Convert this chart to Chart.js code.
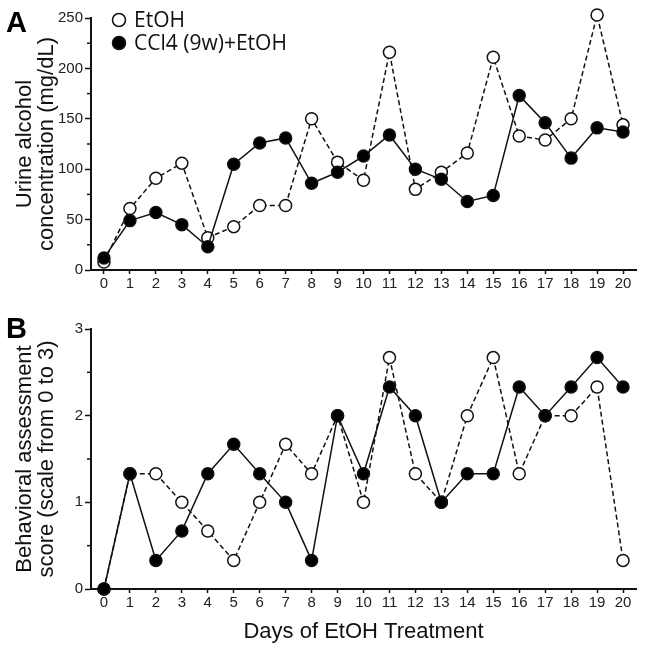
<!DOCTYPE html>
<html><head><meta charset="utf-8">
<script src="https://cdn.jsdelivr.net/npm/chart.js@4/dist/chart.umd.min.js"></script>
<style>
html,body{margin:0;padding:0;background:#fff;width:645px;height:649px;overflow:hidden}
#a{position:absolute;left:0;top:0;width:645px;height:300px}
#b{position:absolute;left:0;top:300px;width:645px;height:349px}
</style></head><body>
<div id="a"><canvas id="ca"></canvas></div>
<div id="b"><canvas id="cb"></canvas></div>
<script>
// ---- data ----
const days = ['0','1','2','3','4','5','6','7','8','9','10','11','12','13','14','15','16','17','18','19','20'];
const seriesNames = ['EtOH', 'CCl4 (9w)+EtOH'];
const etohAlcohol = [8, 61, 91, 106, 32, 43, 64, 64, 150, 107, 89, 216, 80, 97, 116, 211, 133, 129, 150, 253, 144];
const ccl4Alcohol = [12, 49, 57, 45, 23, 105, 126, 131, 86, 97, 113, 134, 100, 90, 68, 74, 173, 146, 111, 141, 137];
const etohScore = [0, 1.33, 1.33, 1, 0.67, 0.33, 1, 1.67, 1.33, 2, 1, 2.67, 1.33, 1, 2, 2.67, 1.33, 2, 2, 2.33, 0.33];
const ccl4Score = [0, 1.33, 0.33, 0.67, 1.33, 1.67, 1.33, 1, 0.33, 2, 1.33, 2.33, 2, 1, 1.33, 1.33, 2.33, 2, 2.33, 2.67, 2.33];
const alcoholTicks = [0, 50, 100, 150, 200, 250];
const scoreTicks = [0, 1, 2, 3];
const alcoholTitle = ['Urine alcohol', 'concentration (mg/dL)'];
const scoreTitle = ['Behavioral assessment', 'score (scale from 0 to 3)'];
const xTitle = 'Days of EtOH Treatment';

const INK = '#111';
const SANS = '"Liberation Sans", Arial, sans-serif';

function datasets(etoh, ccl4) {
  return [
    { label: seriesNames[1], data: ccl4, order: 0, borderColor: INK, backgroundColor: INK,
      borderWidth: 1.5, pointRadius: 6, pointHoverRadius: 6, pointBorderWidth: 1.5,
      pointBackgroundColor: '#000', pointBorderColor: INK, clip: false, tension: 0 },
    { label: seriesNames[0], data: etoh, order: 1, borderColor: INK, backgroundColor: '#fff',
      borderWidth: 1.5, borderDash: [5, 3], pointRadius: 6, pointHoverRadius: 6, pointBorderWidth: 1.5,
      pointBackgroundColor: '#fff', pointBorderColor: INK, clip: false, tension: 0 }
  ];
}

function decor(letter, letterY, minorStep, showLegend) {
  return {
    id: 'decor' + letter,
    afterDraw(chart) {
      const ctx = chart.ctx, ys = chart.scales.y, area = chart.chartArea;
      ctx.save();
      ctx.strokeStyle = INK; ctx.lineWidth = 1.5;
      for (let v = ys.min + minorStep; v < ys.max; v += 2 * minorStep) {
        const py = ys.getPixelForValue(v);
        ctx.beginPath(); ctx.moveTo(area.left - 4, py); ctx.lineTo(area.left, py); ctx.stroke();
      }
      ctx.fillStyle = '#000';
      ctx.font = 'bold 29px ' + SANS;
      ctx.textBaseline = 'alphabetic'; ctx.textAlign = 'left';
      ctx.fillText(letter, 6, letterY);
      if (showLegend) {
        const rows = [chart.data.datasets[1], chart.data.datasets[0]];
        rows.forEach((ds, i) => {
          const cy = 20 + i * 23;
          ctx.beginPath(); ctx.arc(119, cy, 6.5, 0, Math.PI * 2);
          ctx.fillStyle = ds.pointBackgroundColor; ctx.fill();
          ctx.lineWidth = 1.5; ctx.strokeStyle = INK; ctx.stroke();
          ctx.fillStyle = '#111';
          ctx.font = '21px "Open Sans", sans-serif';
          ctx.textBaseline = 'middle';
          ctx.fillText(ds.label, 134, cy + 1);
        });
      }
      ctx.restore();
    }
  };
}

function makeChart(id, etoh, ccl4, yMax, yStep, yTitle, padTop, xHeight, showXTitle, letter, letterY, minorStep, legend) {
  return new Chart(document.getElementById(id), {
    type: 'line',
    data: { labels: days, datasets: datasets(etoh, ccl4) },
    plugins: [decor(letter, letterY, minorStep, legend)],
    options: {
      responsive: true, maintainAspectRatio: false, animation: false, devicePixelRatio: 1,
      layout: { padding: { left: 0, right: 9, top: padTop, bottom: 0 } },
      plugins: { legend: { display: false }, tooltip: { enabled: false } },
      scales: {
        x: {
          type: 'category', offset: true,
          grid: { drawOnChartArea: false, tickLength: 4, color: INK, tickWidth: 1.5 },
          border: { color: INK, width: 2 },
          ticks: { font: { family: SANS, size: 15 }, color: '#222', padding: 1, maxRotation: 0, autoSkip: false },
          title: { display: showXTitle, text: xTitle, font: { family: SANS, size: 22 }, color: '#111', padding: { top: 0, bottom: 4 } },
          afterFit: s => { s.height = xHeight; }
        },
        y: {
          min: 0, max: yMax,
          afterBuildTicks: s => { s.ticks = (yMax === 250 ? alcoholTicks : scoreTicks).map(v => ({ value: v })); },
          grid: { drawOnChartArea: false, tickLength: 6, color: INK, tickWidth: 1.5 },
          border: { color: INK, width: 2 },
          ticks: { stepSize: yStep, font: { family: SANS, size: 15 }, color: '#222', padding: 2 },
          title: { display: true, text: yTitle, font: { family: SANS, size: 22, lineHeight: 1.0 }, color: '#111', padding: { top: 14, bottom: 0 } },
          afterFit: s => { s.width = 91; }
        }
      }
    }
  });
}

makeChart('ca', etohAlcohol, ccl4Alcohol, 250, 50, alcoholTitle, 18, 30, false, 'A', 32, 25, true);
makeChart('cb', etohScore, ccl4Score, 3, 1, scoreTitle, 29, 60, true, 'B', 38, 0.5, false);
</script>
</body></html>
